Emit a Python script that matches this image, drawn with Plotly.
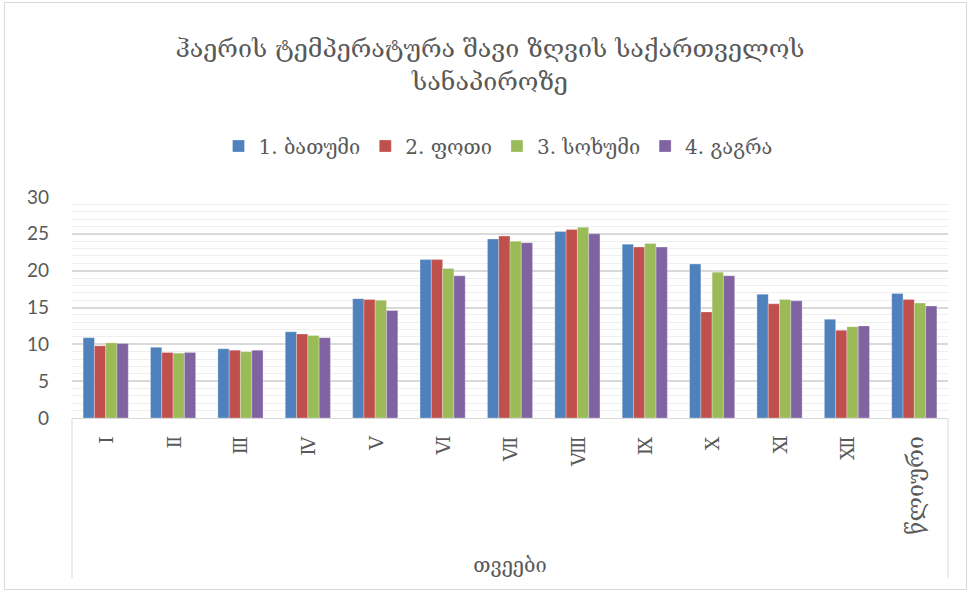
import plotly.graph_objects as go

# Months (Roman numeral characters) plus the annual mean
months = ["Ⅰ", "Ⅱ", "Ⅲ", "Ⅳ", "Ⅴ", "Ⅵ", "Ⅶ", "Ⅷ", "Ⅸ", "Ⅹ", "Ⅺ", "Ⅻ", "წლიური"]

# Mean air temperature, °C
batumi = [10.9, 9.6, 9.4, 11.7, 16.2, 21.5, 24.3, 25.3, 23.6, 20.9, 16.8, 13.4, 16.9]
poti = [9.8, 8.9, 9.2, 11.4, 16.1, 21.5, 24.7, 25.6, 23.2, 14.4, 15.5, 11.9, 16.1]
sokhumi = [10.2, 8.8, 9.0, 11.2, 16.0, 20.3, 24.0, 25.9, 23.7, 19.8, 16.1, 12.4, 15.6]
gagra = [10.1, 8.9, 9.2, 10.9, 14.6, 19.3, 23.8, 25.0, 23.2, 19.3, 15.9, 12.5, 15.2]

series_names = ["1. ბათუმი", "2. ფოთი", "3. სოხუმი", "4. გაგრა"]
series_values = [batumi, poti, sokhumi, gagra]
series_colors = ["#4F81BD", "#C0504D", "#9BBB59", "#8064A2"]

y_ticks = [0, 5, 10, 15, 20, 25, 30]

title_text = "ჰაერის ტემპერატურა შავი ზღვის საქართველოს<br>სანაპიროზე"
x_title = "თვეები"

W, H = 971, 592
L, R, T, B = 72, 23, 197, 174
plot_h = H - T - B
plot_w = W - L - R

TEXT = "#595959"
GEO_FONT = "DejaVu Serif, DejaVu Sans"

fig = go.Figure()
for name, vals, col in zip(series_names, series_values, series_colors):
    fig.add_trace(go.Bar(
        x=months, y=vals, name=name,
        marker=dict(color=col, line=dict(color="rgba(255,255,255,0.35)", width=0.8)),
    ))

def px_x(px):
    return (px - L) / plot_w

def px_y(py):
    return (H - B - py) / plot_h

shapes = [
    # outer chart border
    dict(type="rect", xref="paper", yref="paper",
         x0=px_x(4.5), x1=px_x(966.5), y0=px_y(589.5), y1=px_y(2.5),
         line=dict(color="#D9D9D9", width=1), fillcolor="rgba(0,0,0,0)", layer="below"),
    # category box edges below the axis
    dict(type="line", xref="paper", yref="paper", x0=0, x1=0, y0=0, y1=px_y(578),
         line=dict(color="#D9D9D9", width=1)),
    dict(type="line", xref="paper", yref="paper", x0=1, x1=1, y0=0, y1=px_y(578),
         line=dict(color="#D9D9D9", width=1)),
]

# Category labels, rotated to read bottom-to-top and hung from the axis line
annotations = []
for m in months:
    size = 19 if len(m) == 1 else 23
    annotations.append(dict(
        x=m, xref="x", y=0, yref="paper", yanchor="top", xanchor="center",
        yshift=-16, text=m, textangle=-90, showarrow=False,
        font=dict(family=GEO_FONT, size=size, color=TEXT),
    ))

fig.update_layout(
    width=W, height=H,
    margin=dict(l=L, r=R, t=T, b=B),
    paper_bgcolor="white", plot_bgcolor="white",
    barmode="group", bargap=0.33, bargroupgap=0,
    title=dict(text=title_text, x=490 / W, xanchor="center", xref="container",
               y=1 - 57 / H, yanchor="middle", yref="container",
               font=dict(family=GEO_FONT, size=25, color=TEXT)),
    legend=dict(orientation="h", xref="container", yref="container",
                x=498 / W, xanchor="center", y=1 - 146 / H, yanchor="middle",
                font=dict(family=GEO_FONT, size=20, color=TEXT),
                itemwidth=30, traceorder="normal"),
    shapes=shapes,
    annotations=annotations,
    showlegend=True,
)

fig.update_xaxes(
    type="category", showticklabels=False,
    showline=True, linecolor="#D9D9D9", linewidth=1,
    showgrid=False, ticks="",
    title=dict(text=x_title, font=dict(family=GEO_FONT, size=20, color=TEXT), standoff=139),
)

fig.update_yaxes(
    range=[0, 30], tickvals=y_ticks,
    tickfont=dict(family="Lato, DejaVu Sans", size=19, color=TEXT),
    showgrid=True, gridcolor="#D9D9D9", gridwidth=1.5,
    minor=dict(dtick=1, showgrid=True, gridcolor="#EFEFEF", gridwidth=1),
    zeroline=False, showline=False, ticks="",
    ticklabelstandoff=22,
)

fig.write_html("out.html")
